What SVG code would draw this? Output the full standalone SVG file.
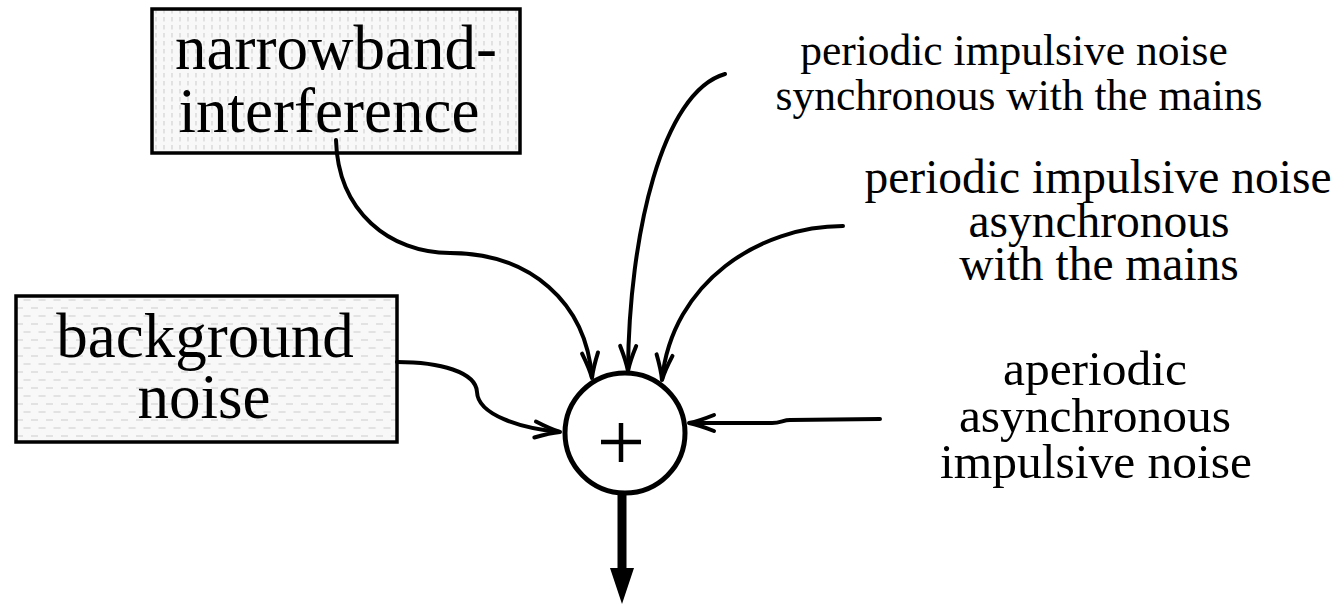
<svg xmlns="http://www.w3.org/2000/svg" width="1344" height="605" viewBox="0 0 1344 605">
<style>
  .lbl { font-family: "Liberation Serif", "Times New Roman", serif; fill: #000; text-anchor: middle; }
  .big { font-size: 63px; }
  .box { stroke: #000; stroke-width: 3.5; }
  .wire { fill: none; stroke: #000; stroke-width: 4; stroke-linecap: round; }
</style>
<defs>
  <pattern id="vdash" width="8" height="8" patternUnits="userSpaceOnUse">
    <rect width="8" height="8" fill="#f8f8f8"/>
    <line x1="4" y1="1" x2="4" y2="5.5" stroke="#d6d6d6" stroke-width="1.3"/>
  </pattern>
  <pattern id="hdash" width="15" height="16" patternUnits="userSpaceOnUse">
    <rect width="15" height="16" fill="#f8f8f8"/>
    <line x1="1" y1="4" x2="8" y2="4" stroke="#d6d6d6" stroke-width="1.3"/>
    <line x1="8.5" y1="12" x2="15" y2="12" stroke="#d6d6d6" stroke-width="1.3"/>
    <line x1="0" y1="12" x2="0.5" y2="12" stroke="#d6d6d6" stroke-width="1.3"/>
  </pattern>
  <marker id="arr" markerUnits="userSpaceOnUse" markerWidth="40" markerHeight="30" viewBox="-30 -15 40 30" refX="0" refY="0" orient="auto" overflow="visible">
    <path d="M-25,-8 Q-10,-2 0,0 Q-10,2 -25,8" fill="none" stroke="#000" stroke-width="4" stroke-linejoin="miter" stroke-linecap="round"/>
  </marker>
</defs>

<g id="node-narrowband">
  <rect class="box" x="152" y="9" width="368" height="144" fill="url(#vdash)"/>
  <text class="lbl big" x="336" y="69">narrowband-</text>
  <text class="lbl big" x="329" y="132">interference</text>
</g>

<g id="node-background">
  <rect class="box" x="16" y="296" width="381" height="146" fill="url(#hdash)"/>
  <text class="lbl big" x="205" y="357">background</text>
  <text class="lbl big" x="204" y="418">noise</text>
</g>

<g id="node-sum">
  <circle cx="625" cy="433" r="60" fill="#fff" stroke="#000" stroke-width="5"/>
  <line x1="601" y1="442" x2="641" y2="442" stroke="#000" stroke-width="4.5"/>
  <line x1="621" y1="423" x2="621" y2="462" stroke="#000" stroke-width="4.5"/>
</g>

<g id="node-periodic-sync">
  <text class="lbl" style="font-size:43.5px" x="1014" y="65">periodic impulsive noise</text>
  <text class="lbl" style="font-size:43.5px" x="1019" y="110">synchronous with the mains</text>
</g>

<g id="node-periodic-async">
  <text class="lbl" style="font-size:47.5px" x="1098" y="193">periodic impulsive noise</text>
  <text class="lbl" style="font-size:47.5px" x="1099" y="237">asynchronous</text>
  <text class="lbl" style="font-size:47.5px" x="1099" y="280">with the mains</text>
</g>

<g id="node-aperiodic">
  <text class="lbl" style="font-size:49.5px" x="1095" y="385">aperiodic</text>
  <text class="lbl" style="font-size:49.5px" x="1095" y="432">asynchronous</text>
  <text class="lbl" style="font-size:49.5px" x="1096" y="478">impulsive noise</text>
</g>

<g id="connectors">
  <path class="wire" marker-end="url(#arr)" d="M336,140 C338,212 390,253 450,253 C530,253 586,302 592,378"/>
  <path class="wire" marker-end="url(#arr)" d="M397,362 C440,362 476,372 477,392 C478,415 520,428 560,432"/>
  <path class="wire" marker-end="url(#arr)" d="M725,74 C662,92 629,235 628,371"/>
  <path class="wire" marker-end="url(#arr)" d="M843,226 C760,226 672,282 662,380"/>
  <path class="wire" marker-end="url(#arr)" d="M880,419 L790,420 C783,420 781,423 772,423 L689,423"/>
  <line x1="622" y1="493" x2="622" y2="572" stroke="#000" stroke-width="9"/>
  <polygon points="610,568 634,568 622,604" fill="#000"/>
</g>
</svg>
